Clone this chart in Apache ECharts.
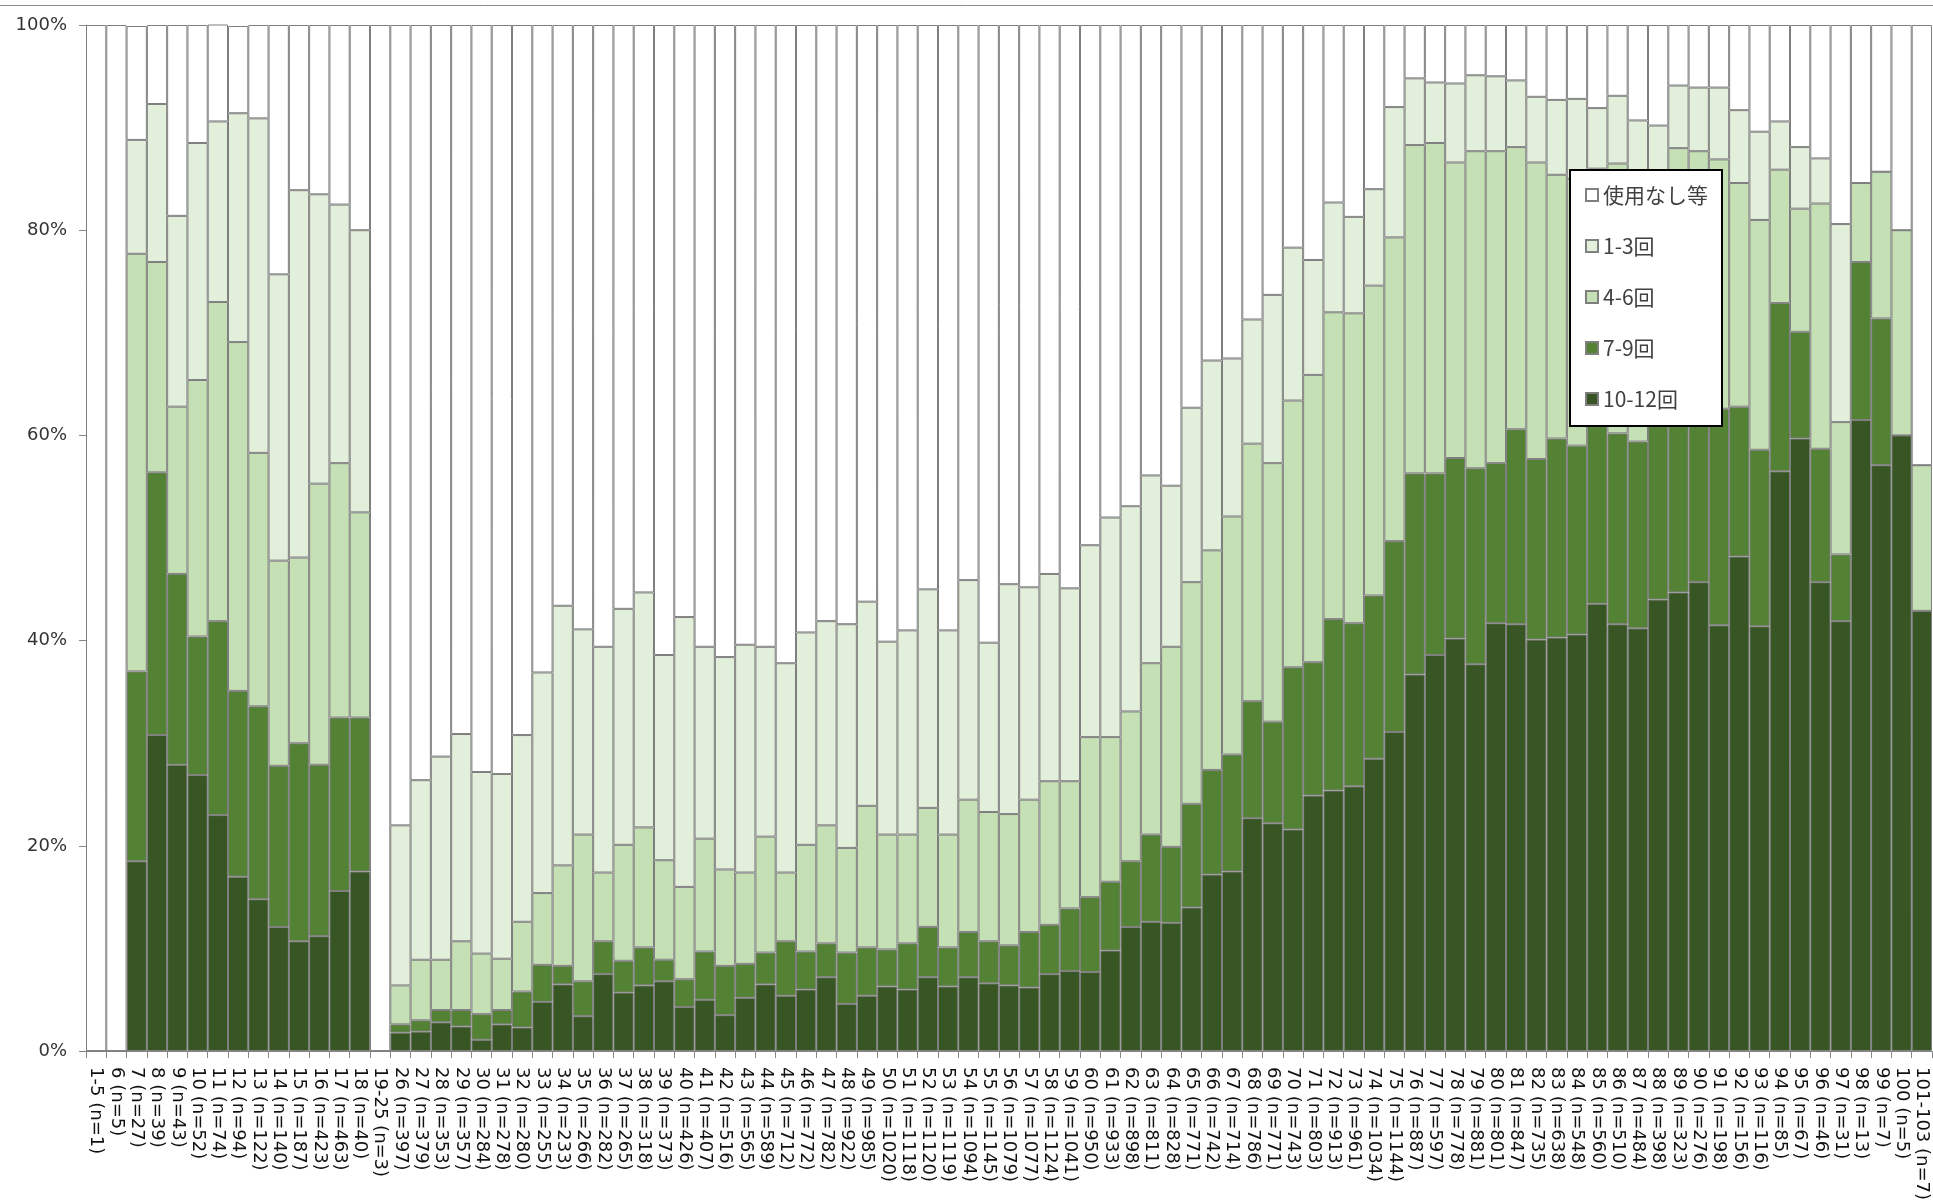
<!doctype html>
<html lang="ja">
<head>
    <meta charset="UTF-8">
    <title>使用回数の割合</title>
    <script src="https://cdn.jsdelivr.net/npm/echarts@6/dist/echarts.min.js"></script>
    <style>
        html, body { margin: 0; padding: 0; background: #fff; }
        #chart { width: 1933px; height: 1203px; }
    </style>
</head>
<body>
<div id="chart"></div>
<script type="text/javascript">
    // 区分 (年齢・件数)
    var categories = [
        '1-5 (n=1)', '6 (n=5)', '7 (n=27)', '8 (n=39)', '9 (n=43)', '10 (n=52)', '11 (n=74)', '12 (n=94)',
        '13 (n=122)', '14 (n=140)', '15 (n=187)', '16 (n=423)', '17 (n=463)', '18 (n=40)', '19-25 (n=3)',
        '26 (n=397)', '27 (n=379)', '28 (n=353)', '29 (n=357)', '30 (n=284)', '31 (n=278)', '32 (n=280)',
        '33 (n=255)', '34 (n=233)', '35 (n=266)', '36 (n=282)', '37 (n=265)', '38 (n=318)', '39 (n=373)',
        '40 (n=426)', '41 (n=407)', '42 (n=516)', '43 (n=565)', '44 (n=589)', '45 (n=712)', '46 (n=772)',
        '47 (n=782)', '48 (n=922)', '49 (n=985)', '50 (n=1020)', '51 (n=1118)', '52 (n=1120)', '53 (n=1119)',
        '54 (n=1094)', '55 (n=1145)', '56 (n=1079)', '57 (n=1077)', '58 (n=1124)', '59 (n=1041)', '60 (n=950)',
        '61 (n=933)', '62 (n=898)', '63 (n=811)', '64 (n=828)', '65 (n=771)', '66 (n=742)', '67 (n=714)',
        '68 (n=786)', '69 (n=771)', '70 (n=743)', '71 (n=803)', '72 (n=913)', '73 (n=961)', '74 (n=1034)',
        '75 (n=1144)', '76 (n=887)', '77 (n=597)', '78 (n=778)', '79 (n=881)', '80 (n=801)', '81 (n=847)',
        '82 (n=735)', '83 (n=638)', '84 (n=548)', '85 (n=560)', '86 (n=510)', '87 (n=484)', '88 (n=398)',
        '89 (n=323)', '90 (n=276)', '91 (n=198)', '92 (n=156)', '93 (n=116)', '94 (n=85)', '95 (n=67)',
        '96 (n=46)', '97 (n=31)', '98 (n=13)', '99 (n=7)', '100 (n=5)', '101-103 (n=7)'
    ];

    // 各区分の割合 (%)
    var s10_12 = [
        0, 0, 18.5, 30.8, 27.9, 26.9, 23.0, 17.0, 14.8, 12.1, 10.7, 11.2, 15.6, 17.5, 0,
        1.8, 1.9, 2.8, 2.4, 1.1, 2.6, 2.3, 4.8, 6.5, 3.4, 7.5, 5.7, 6.4, 6.8, 4.3,
        5.0, 3.5, 5.2, 6.5, 5.4, 6.0, 7.2, 4.6, 5.4, 6.3, 6.0, 7.2, 6.3, 7.2, 6.6,
        6.4, 6.2, 7.5, 7.8, 7.7, 9.8, 12.1, 12.6, 12.5, 14.0, 17.2, 17.5, 22.7, 22.2, 21.6,
        24.9, 25.4, 25.8, 28.5, 31.1, 36.7, 38.6, 40.2, 37.7, 41.7, 41.6, 40.1, 40.3, 40.6, 43.6,
        41.6, 41.2, 44.0, 44.7, 45.7, 41.5, 48.2, 41.4, 56.5, 59.7, 45.7, 41.9, 61.5, 57.1, 60.0,
        42.9
    ];
    var s7_9 = [
        0, 0, 18.5, 25.6, 18.6, 13.5, 18.9, 18.1, 18.8, 15.7, 19.3, 16.7, 16.9, 15.0, 0,
        0.8, 1.1, 1.2, 1.6, 2.5, 1.4, 3.5, 3.6, 1.8, 3.4, 3.2, 3.1, 3.7, 2.1, 2.7,
        4.7, 4.8, 3.3, 3.1, 5.3, 3.7, 3.3, 5.0, 4.7, 3.6, 4.5, 4.9, 3.8, 4.4, 4.1,
        3.9, 5.4, 4.8, 6.1, 7.3, 6.7, 6.4, 8.5, 7.4, 10.1, 10.2, 11.4, 11.4, 9.9, 15.8,
        13.0, 16.7, 15.9, 15.9, 18.6, 19.6, 17.7, 17.6, 19.1, 15.6, 19.0, 17.6, 19.4, 18.4, 18.9,
        18.6, 18.2, 19.0, 18.8, 18.3, 21.1, 14.6, 17.2, 16.4, 10.4, 13.0, 6.5, 15.4, 14.3, 0,
        0
    ];
    var s4_6 = [
        0, 0, 40.7, 20.5, 16.3, 25.0, 31.1, 34.0, 24.7, 20.0, 18.1, 27.4, 24.8, 20.0, 0,
        3.8, 5.9, 4.9, 6.7, 5.9, 5.0, 6.8, 7.0, 9.8, 14.3, 6.7, 11.3, 11.7, 9.7, 9.0,
        11.0, 9.4, 8.9, 11.3, 6.7, 10.4, 11.5, 10.2, 13.8, 11.2, 10.6, 11.6, 11.0, 12.9, 12.6,
        12.8, 12.9, 14.0, 12.4, 15.6, 14.1, 14.6, 16.7, 19.5, 21.6, 21.4, 23.2, 25.1, 25.2, 26.0,
        28.0, 29.9, 30.2, 30.2, 29.6, 32.0, 32.2, 28.8, 30.9, 30.4, 27.5, 28.9, 25.7, 26.0, 23.5,
        26.3, 25.6, 22.5, 24.5, 23.7, 24.3, 21.8, 22.4, 13.0, 12.0, 23.9, 12.9, 7.7, 14.3, 20.0,
        14.2
    ];
    var s1_3 = [
        0, 0, 11.1, 15.4, 18.6, 23.1, 17.6, 22.3, 32.6, 27.9, 35.8, 28.2, 25.2, 27.5, 0,
        15.6, 17.5, 19.8, 20.2, 17.7, 18.0, 18.2, 21.5, 25.3, 20.0, 22.0, 23.0, 22.9, 20.0, 26.3,
        18.7, 20.7, 22.2, 18.5, 20.4, 20.7, 19.9, 21.8, 19.9, 18.8, 19.9, 21.3, 19.9, 21.4, 16.5,
        22.4, 20.7, 20.2, 18.8, 18.7, 21.4, 20.0, 18.3, 15.7, 17.0, 18.5, 15.4, 12.1, 16.4, 14.9,
        11.2, 10.7, 9.4, 9.4, 12.7, 6.5, 5.9, 7.7, 7.4, 7.3, 6.5, 6.4, 7.3, 7.8, 5.9,
        6.6, 5.7, 4.7, 6.1, 6.2, 7.0, 7.1, 8.6, 4.7, 6.0, 4.4, 19.3, 0, 0, 0,
        0
    ];
    var sNone = [
        100, 100, 11.1, 7.7, 18.6, 11.5, 9.5, 8.5, 9.1, 24.3, 16.1, 16.5, 17.5, 20.0, 100,
        78.0, 73.6, 71.3, 69.1, 72.8, 73.0, 69.2, 63.1, 56.6, 58.9, 60.6, 56.9, 55.3, 61.4, 57.7,
        60.6, 61.6, 60.4, 60.6, 62.2, 59.2, 58.1, 58.4, 56.2, 60.1, 59.0, 55.0, 59.0, 54.1, 60.2,
        54.5, 54.8, 53.5, 54.9, 50.7, 48.0, 46.9, 43.9, 44.9, 37.3, 32.7, 32.5, 28.7, 26.3, 21.7,
        22.9, 17.3, 18.7, 16.0, 8.0, 5.2, 5.6, 5.7, 4.9, 5.0, 5.4, 7.0, 7.3, 7.2, 8.1,
        6.9, 9.3, 9.8, 5.9, 6.1, 6.1, 8.3, 10.4, 9.4, 11.9, 13.0, 19.4, 15.4, 14.3, 20.0,
        42.9
    ];

    var yTicks = [0, 20, 40, 60, 80, 100];

    var myChart = echarts.init(document.getElementById('chart'), null, { renderer: 'canvas' });

    // 積み上げ棒の共通設定
    var makeSeries = function (name, data, color) {
        return {
            name: name,
            type: 'bar',
            stack: 'total',
            data: data,
            barCategoryGap: 0,
            itemStyle: { color: color, borderColor: '#7f7f7f', borderWidth: 1 },
            emphasis: { disabled: true }
        };
    };

    var option = {
        animation: false,
        backgroundColor: '#ffffff',
        textStyle: { fontFamily: 'DejaVu Sans' },
        graphic: [{
            type: 'line',
            shape: { x1: 0, y1: 5.5, x2: 1933, y2: 5.5 },
            style: { stroke: '#8c8c8c', lineWidth: 1 }
        }],
        grid: { left: 86, right: 1, top: 25, bottom: 150 },
        legend: {
            orient: 'vertical',
            left: 1570,
            top: 170,
            data: ['使用なし等', '1-3回', '4-6回', '7-9回', '10-12回'],
            itemWidth: 12,
            itemHeight: 12,
            itemGap: 29,
            icon: 'rect',
            padding: [14, 14, 16, 15],
            backgroundColor: '#ffffff',
            borderColor: '#000000',
            borderWidth: 2,
            textStyle: {
                fontFamily: 'Noto Sans CJK JP',
                fontSize: 21,
                lineHeight: 22,
                color: '#404040'
            }
        },
        xAxis: {
            type: 'category',
            data: categories,
            axisLine: { lineStyle: { color: '#868686', width: 1 } },
            axisTick: { show: true, length: 7, lineStyle: { color: '#868686' } },
            axisLabel: {
                interval: 0,
                rotate: -90,
                margin: 16,
                fontSize: 18,
                color: '#111111',
                fontFamily: 'DejaVu Sans'
            },
            splitLine: { show: false }
        },
        yAxis: {
            type: 'value',
            min: yTicks[0],
            max: yTicks[yTicks.length - 1],
            interval: 20,
            axisLine: { show: true, lineStyle: { color: '#868686', width: 1 } },
            axisTick: { show: true, length: 7, lineStyle: { color: '#868686' } },
            axisLabel: {
                formatter: '{value}%',
                margin: 19,
                fontSize: 18,
                color: '#333333',
                fontFamily: 'DejaVu Sans'
            },
            splitLine: { show: false }
        },
        series: [
            makeSeries('10-12回', s10_12, '#375623'),
            makeSeries('7-9回', s7_9, '#548235'),
            makeSeries('4-6回', s4_6, '#C5E0B4'),
            makeSeries('1-3回', s1_3, '#E2EFDA'),
            makeSeries('使用なし等', sNone, '#FFFFFF')
        ]
    };

    myChart.setOption(option);
</script>
</body>
</html>
